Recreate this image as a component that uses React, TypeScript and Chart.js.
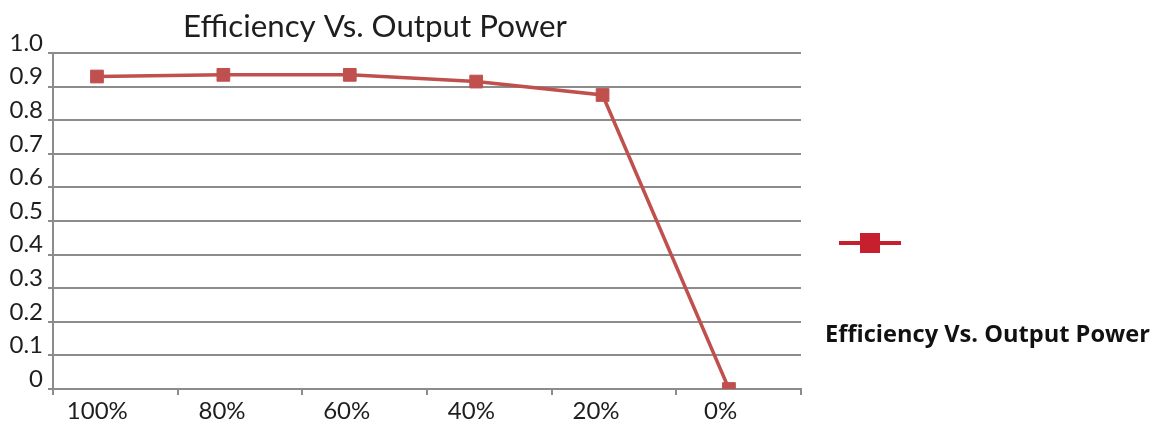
import { useEffect, useRef } from 'react';
import { Chart, registerables } from 'chart.js';

Chart.register(...registerables);

const chartTitle = 'Efficiency Vs. Output Power';
const seriesLabel = 'Efficiency Vs. Output Power';
const categories = ['100%', '80%', '60%', '40%', '20%', '0%'];
const efficiency = [0.93, 0.935, 0.935, 0.915, 0.875, 0];
const yTickLabels = ['0', '0.1', '0.2', '0.3', '0.4', '0.5', '0.6', '0.7', '0.8', '0.9', '1.0'];

const LINE_COLOR = '#C0504D';
const LEGEND_COLOR = '#C6202F';
const GRID_COLOR = '#8c8c8c';
const TEXT_COLOR = '#1e1e1e';
const FONT = 'Lato, "DejaVu Sans", sans-serif';
const LEGEND_FONT = '"Open Sans", Lato, sans-serif';

function fitFont(ctx: any, text: string, weight: string, family: string, width: number, base: number) {
  ctx.font = `${weight} ${base}px ${family}`;
  const w = ctx.measureText(text).width;
  const size = (base * width) / w;
  ctx.font = `${weight} ${size}px ${family}`;
}

const overlayPlugin = {
  id: 'overlay',
  afterDraw(chart: any) {
    const ctx = chart.ctx;
    ctx.save();
    // title
    ctx.fillStyle = TEXT_COLOR;
    fitFont(ctx, chartTitle, 'normal', FONT, 384, 28);
    ctx.textAlign = 'center';
    ctx.textBaseline = 'alphabetic';
    ctx.fillText(chartTitle, 375, 37);
    // legend
    const ds = chart.data.datasets[0];
    ctx.strokeStyle = LEGEND_COLOR;
    ctx.lineWidth = 4;
    ctx.beginPath();
    ctx.moveTo(839, 243);
    ctx.lineTo(901, 243);
    ctx.stroke();
    ctx.fillStyle = LEGEND_COLOR;
    ctx.fillRect(860, 233, 20, 20);
    ctx.fillStyle = '#111';
    fitFont(ctx, ds.label, 'bold', LEGEND_FONT, 325, 22);
    ctx.textAlign = 'left';
    ctx.fillText(ds.label, 825, 342);
    ctx.restore();
  },
};

export default function App() {
  const ref = useRef<HTMLCanvasElement>(null);
  useEffect(() => {
    if (!ref.current) return;
    const chart = new Chart(ref.current, {
      type: 'line',
      data: {
        labels: categories,
        datasets: [
          {
            label: seriesLabel,
            data: efficiency.map((v, i) => ({ x: i, y: v })),
            xAxisID: 'x2',
            yAxisID: 'y',
            borderColor: LINE_COLOR,
            backgroundColor: LINE_COLOR,
            borderWidth: 3.5,
            pointStyle: 'rect',
            pointRadius: 9,
            pointBorderWidth: 1,
            pointBackgroundColor: LINE_COLOR,
            pointBorderColor: LINE_COLOR,
            tension: 0,
          },
        ],
      },
      options: {
        animation: false,
        responsive: true,
        maintainAspectRatio: false,
        layout: { padding: { top: 53, right: 359, left: 0, bottom: 0 } },
        plugins: {
          legend: { display: false },
          title: { display: false },
          tooltip: { enabled: false },
        },
        scales: {
          x: {
            type: 'category',
            position: 'bottom',
            offset: true,
            afterFit: (s: any) => {
              s.height = 37;
            },
            grid: {
              offset: true,
              drawOnChartArea: false,
              drawTicks: true,
              tickLength: 6,
              color: GRID_COLOR,
              lineWidth: 2,
            },
            border: { display: true, color: GRID_COLOR, width: 2 },
            ticks: {
              color: TEXT_COLOR,
              font: { family: FONT, size: 24 },
              labelOffset: -18,
              padding: 2,
              maxRotation: 0,
            },
          },
          x2: {
            type: 'linear',
            position: 'bottom',
            display: false,
            min: -0.348,
            max: 5.57,
          },
          y: {
            type: 'linear',
            min: 0,
            max: 1,
            afterFit: (s: any) => {
              s.width = 53;
            },
            ticks: {
              stepSize: 0.1,
              color: TEXT_COLOR,
              font: { family: FONT, size: 24 },
              padding: 5,
              labelOffset: -10,
              callback: (_v: any, i: number) => yTickLabels[i],
            },
            grid: {
              color: GRID_COLOR,
              lineWidth: 2,
              tickLength: 5,
              drawTicks: true,
            },
            border: { display: true, color: GRID_COLOR, width: 2 },
          },
        },
      },
      plugins: [overlayPlugin],
    } as any);
    return () => chart.destroy();
  }, []);
  return (
    <div style={{ position: 'absolute', left: 0, top: 0, width: 1160, height: 426, background: '#fff' }}>
      <canvas ref={ref} />
    </div>
  );
}
